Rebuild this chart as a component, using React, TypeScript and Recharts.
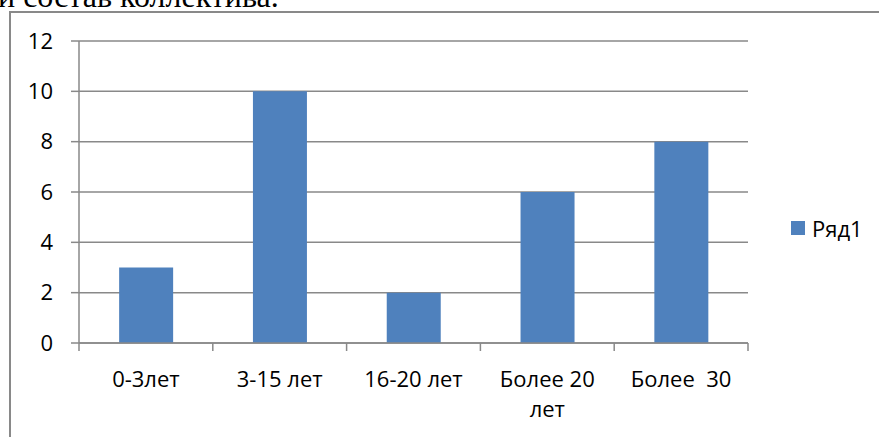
import { BarChart, Bar, XAxis, YAxis, CartesianGrid } from 'recharts';

const categories = ['0-3лет', '3-15 лет', '16-20 лет', 'Более 20\nлет', 'Более  30'];
const values = [3, 10, 2, 6, 8];
const yTicks = [0, 2, 4, 6, 8, 10, 12];
const seriesName = 'Ряд1';
const caption = 'и состав коллектива.';

const data = categories.map((name, i) => ({ name, value: values[i] }));

const GRAY = '#898989';
const BLUE = '#4F81BD';
const FONT = '"Open Sans", "Noto Sans", sans-serif';

// label under each category + Excel-style tick marks on the category boundaries
function CategoryTick(props: any) {
  const { x, y, payload, index, visibleTicksCount } = props;
  const half = payload.offset || 0;
  const lines = String(payload.value).split('\n');
  const isLast = index === visibleTicksCount - 1;
  return (
    <g>
      <line x1={x - half} x2={x - half} y1={y} y2={y + 8} stroke={GRAY} strokeWidth={1.5} />
      {isLast && <line x1={x + half} x2={x + half} y1={y} y2={y + 8} stroke={GRAY} strokeWidth={1.5} />}
      <text x={x} y={y} textAnchor="middle" fill="#000" fontSize={22} fontFamily={FONT} style={{ whiteSpace: 'pre' }}>
        {lines.map((line: string, i: number) => (
          <tspan key={i} x={x} y={y + 44 + i * 30}>{line}</tspan>
        ))}
      </text>
    </g>
  );
}

export default function App() {
  return (
    <div style={{ position: 'absolute', left: 0, top: 0, width: 879, height: 437, overflow: 'hidden', background: '#fff' }}>
      <div style={{ position: 'absolute', left: -2, top: -20, fontFamily: '"Liberation Serif", serif', fontSize: 32, lineHeight: '32px', whiteSpace: 'nowrap', color: '#000' }}>
        {caption}
      </div>
      <div style={{ position: 'absolute', left: 9, top: 11, width: 1000, height: 1000, borderLeft: `2px solid ${GRAY}`, borderTop: `2px solid ${GRAY}` }} />

      <div style={{ position: 'absolute', left: 0, top: 0 }}>
        <BarChart
          width={879}
          height={437}
          data={data}
          margin={{ top: 41, right: 131, left: 0, bottom: 93 }}
          barCategoryGap="30%"
        >
          <CartesianGrid vertical={false} stroke={GRAY} strokeWidth={1.5} />
          <XAxis
            dataKey="name"
            height={1}
            tickLine={false}
            tickSize={0}
            tickMargin={0}
            axisLine={{ stroke: GRAY, strokeWidth: 1.5 }}
            tick={(p: any) => <CategoryTick {...p} />}
            interval={0}
          />
          <YAxis
            width={79}
            domain={[0, 12]}
            ticks={yTicks}
            interval={0}
            tickSize={8}
            tickMargin={18}
            axisLine={{ stroke: GRAY, strokeWidth: 1.5 }}
            tickLine={{ stroke: GRAY, strokeWidth: 1.5 }}
            tick={{ fill: '#000', fontSize: 22, fontFamily: FONT }}
          />
          <Bar dataKey="value" name={seriesName} fill={BLUE} isAnimationActive={false} />
        </BarChart>
      </div>

      <div style={{ position: 'absolute', left: 791, top: 214, height: 28, display: 'flex', alignItems: 'center', fontFamily: FONT, fontSize: 22, color: '#000' }}>
        <div style={{ width: 14, height: 14, background: BLUE, marginRight: 7 }} />
        <span>{seriesName}</span>
      </div>
    </div>
  );
}
